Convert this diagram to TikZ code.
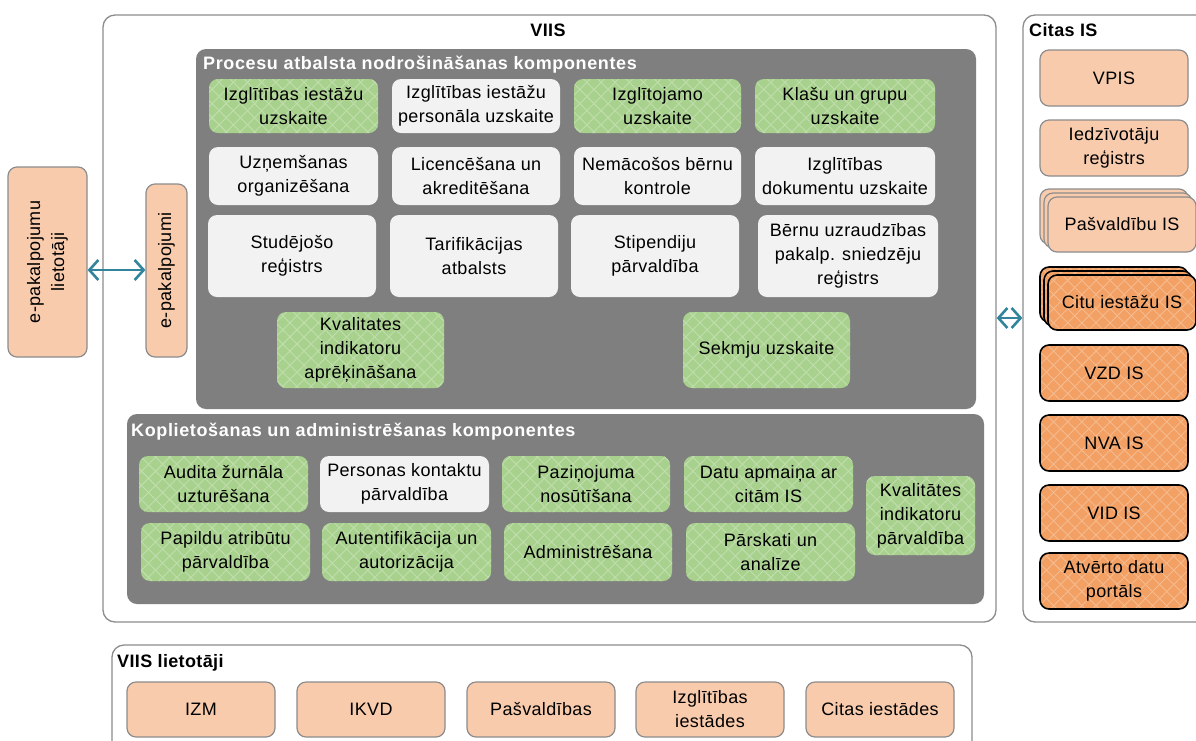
\documentclass[tikz,border=0pt]{standalone}
\usepackage{fontspec}
\setmainfont{Liberation Sans}[LetterSpace=2]
\newfontfamily\titlefont{Liberation Sans}[LetterSpace=3.5]
\usetikzlibrary{arrows.meta,patterns.meta}
\definecolor{gfill}{HTML}{A9D18E}
\definecolor{wfill}{HTML}{F2F2F2}
\definecolor{panel}{HTML}{7F7F7F}
\definecolor{lorange}{HTML}{F8CBAD}
\definecolor{dorange}{HTML}{F2A064}
\definecolor{teal}{HTML}{31849B}
\definecolor{bord}{HTML}{8C8C8C}
\tikzset{
  base/.style={rounded corners=9pt, draw=bord, line width=1.2pt, inner sep=0pt, align=center,
    font=\fontsize{18}{24}\selectfont, text=black},
  hatch/.style={preaction={fill=#1},
                preaction={pattern={Lines[angle=45,distance=10pt,line width=0.9pt]}, pattern color=white!28!#1},
                preaction={pattern={Lines[angle=-45,distance=10pt,line width=0.9pt]}, pattern color=white!28!#1}},
  gbox/.style={base, draw=none, hatch=gfill},
  wbox/.style={base, draw=none, fill=wfill},
  obox/.style={base, fill=lorange},
  dbox/.style={base, draw=black, line width=1.6pt, hatch=dorange},
  pnl/.style={rounded corners=10pt, fill=panel, draw=none, inner sep=0pt},
  frame/.style={rounded corners=12pt, draw=bord, line width=1.3pt, fill=white, inner sep=0pt},
  ptitle/.style={font=\titlefont\bfseries\fontsize{18}{22}\selectfont, text=white, anchor=west, inner sep=0pt},
  ftitle/.style={font=\bfseries\fontsize{18}{22}\selectfont, text=black, inner sep=0pt},
  dblarrow/.style={draw=teal, line width=2.6pt, {Straight Barb[length=9pt,width=20pt]}-{Straight Barb[length=9pt,width=20pt]}},
}
\newcommand{\bx}[7]{\node[#1, minimum width={(#5-#3)*1pt}, minimum height={(#6-#4)*1pt}] (#2) at ({(#3+#5)/2},{(#4+#6)/2}) {#7};}
\begin{document}
\begin{tikzpicture}[x=1pt,y=-1pt]
\useasboundingbox (0,0) rectangle (1196,740);
\clip (0,0) rectangle (1196,740);
% frames
\bx{frame}{viis}{103}{15}{996}{622}{}
\node[ftitle] (viist) at (548,30) {VIIS};
\bx{frame}{citas}{1023}{15}{1215}{622}{}
\node[ftitle, anchor=west] (citast) at (1029,30) {Citas IS};
\bx{frame}{liet}{112}{645}{972}{760}{}
\node[ftitle, anchor=west] (lietot) at (117,663) {VIIS lietotāji};
% panels
\bx{pnl}{proc}{196}{49}{976}{409}{}
\node[ptitle] (proct) at (203,65) {Procesu atbalsta nodrošināšanas komponentes};
\bx{pnl}{kopl}{127}{414}{984}{604}{}
\node[ptitle] (koplt) at (131,432) {Koplietošanas un administrēšanas komponentes};
% process boxes
\bx{gbox}{p11}{209}{79}{378}{133}{Izglītības iestāžu\\uzskaite}
\bx{wbox}{p12}{392}{79}{560}{133}{Izglītības iestāžu\\personāla uzskaite}
\bx{gbox}{p13}{574}{79}{741}{133}{Izglītojamo\\uzskaite}
\bx{gbox}{p14}{755}{79}{935}{133}{Klašu un grupu\\uzskaite}
\bx{wbox}{p21}{209}{147}{378}{205}{Uzņemšanas\\organizēšana}
\bx{wbox}{p22}{392}{147}{560}{205}{Licencēšana un\\akreditēšana}
\bx{wbox}{p23}{574}{147}{741}{205}{Nemācošos bērnu\\kontrole}
\bx{wbox}{p24}{755}{147}{935}{205}{Izglītības\\dokumentu uzskaite}
\bx{wbox}{p31}{208}{215}{376}{297}{Studējošo\\reģistrs}
\bx{wbox}{p32}{390}{215}{558}{297}{Tarifikācijas\\atbalsts}
\bx{wbox}{p33}{571}{215}{739}{297}{Stipendiju\\pārvaldība}
\bx{wbox}{p34}{758}{215}{938}{297}{Bērnu uzraudzības\\pakalp. sniedzēju\\reģistrs}
\bx{gbox}{p41}{277}{312}{444}{388}{Kvalitates\\indikatoru\\aprēķināšana}
\bx{gbox}{p42}{683}{312}{850}{388}{Sekmju uzskaite}
% shared boxes
\bx{gbox}{k11}{139}{456}{308}{512}{Audita žurnāla\\uzturēšana}
\bx{wbox}{k12}{320}{456}{489}{512}{Personas kontaktu\\pārvaldība}
\bx{gbox}{k13}{502}{456}{670}{512}{Paziņojuma\\nosūtīšana}
\bx{gbox}{k14}{684}{456}{853}{512}{Datu apmaiņa ar\\citām IS}
\bx{gbox}{k21}{141}{523}{310}{581}{Papildu atribūtu\\pārvaldība}
\bx{gbox}{k22}{322}{523}{491}{581}{Autentifikācija un\\autorizācija}
\bx{gbox}{k23}{504}{523}{672}{581}{Administrēšana}
\bx{gbox}{k24}{686}{523}{855}{581}{Pārskati un\\analīze}
\bx{gbox}{k15}{866}{476}{975}{555}{Kvalitātes\\indikatoru\\pārvaldība}
% left side
\bx{obox}{epl}{8}{167}{87}{357}{}
\node[rotate=90, align=center, font=\fontsize{18}{24}\selectfont] (eplt) at (epl.center) {e-pakalpojumu\\lietotāji};
\bx{obox}{ep}{146}{184}{187}{357}{}
\node[rotate=90, font=\fontsize{18}{24}\selectfont] (ept) at (ep.center) {e-pakalpojumi};
\draw[dblarrow] (epl.east |- 0,270) -- (ep.west |- 0,270);
\draw[dblarrow] (viis.east |- 0,318) -- (citas.west |- 0,318);
% other IS
\bx{obox}{vpis}{1040}{50}{1188}{106}{VPIS}
\bx{obox}{iedz}{1040}{120}{1188}{176}{Iedzīvotāju\\reģistrs}
\bx{obox}{pasb2}{1040}{189}{1188}{244}{}
\bx{obox}{pasb1}{1044}{193}{1192}{248}{}
\bx{obox}{pas}{1048}{197}{1196}{252}{Pašvaldību IS}
\bx{dbox}{citb2}{1040}{267}{1188}{322}{}
\bx{dbox}{citb1}{1044}{271}{1192}{326}{}
\bx{dbox}{cit}{1048}{275}{1196}{330}{Citu iestāžu IS}
\bx{dbox}{vzd}{1040}{345}{1188}{401}{VZD IS}
\bx{dbox}{nva}{1040}{415}{1188}{471}{NVA IS}
\bx{dbox}{vid}{1040}{485}{1188}{541}{VID IS}
\bx{dbox}{adp}{1040}{553}{1188}{609}{Atvērto datu\\portāls}
% users
\bx{obox}{izm}{127}{682}{275}{737}{IZM}
\bx{obox}{ikvd}{297}{682}{445}{737}{IKVD}
\bx{obox}{pasv}{467}{682}{615}{737}{Pašvaldības}
\bx{obox}{izgl}{636}{682}{784}{737}{Izglītības\\iestādes}
\bx{obox}{cit2}{806}{682}{954}{737}{Citas iestādes}
\end{tikzpicture}
\end{document}
